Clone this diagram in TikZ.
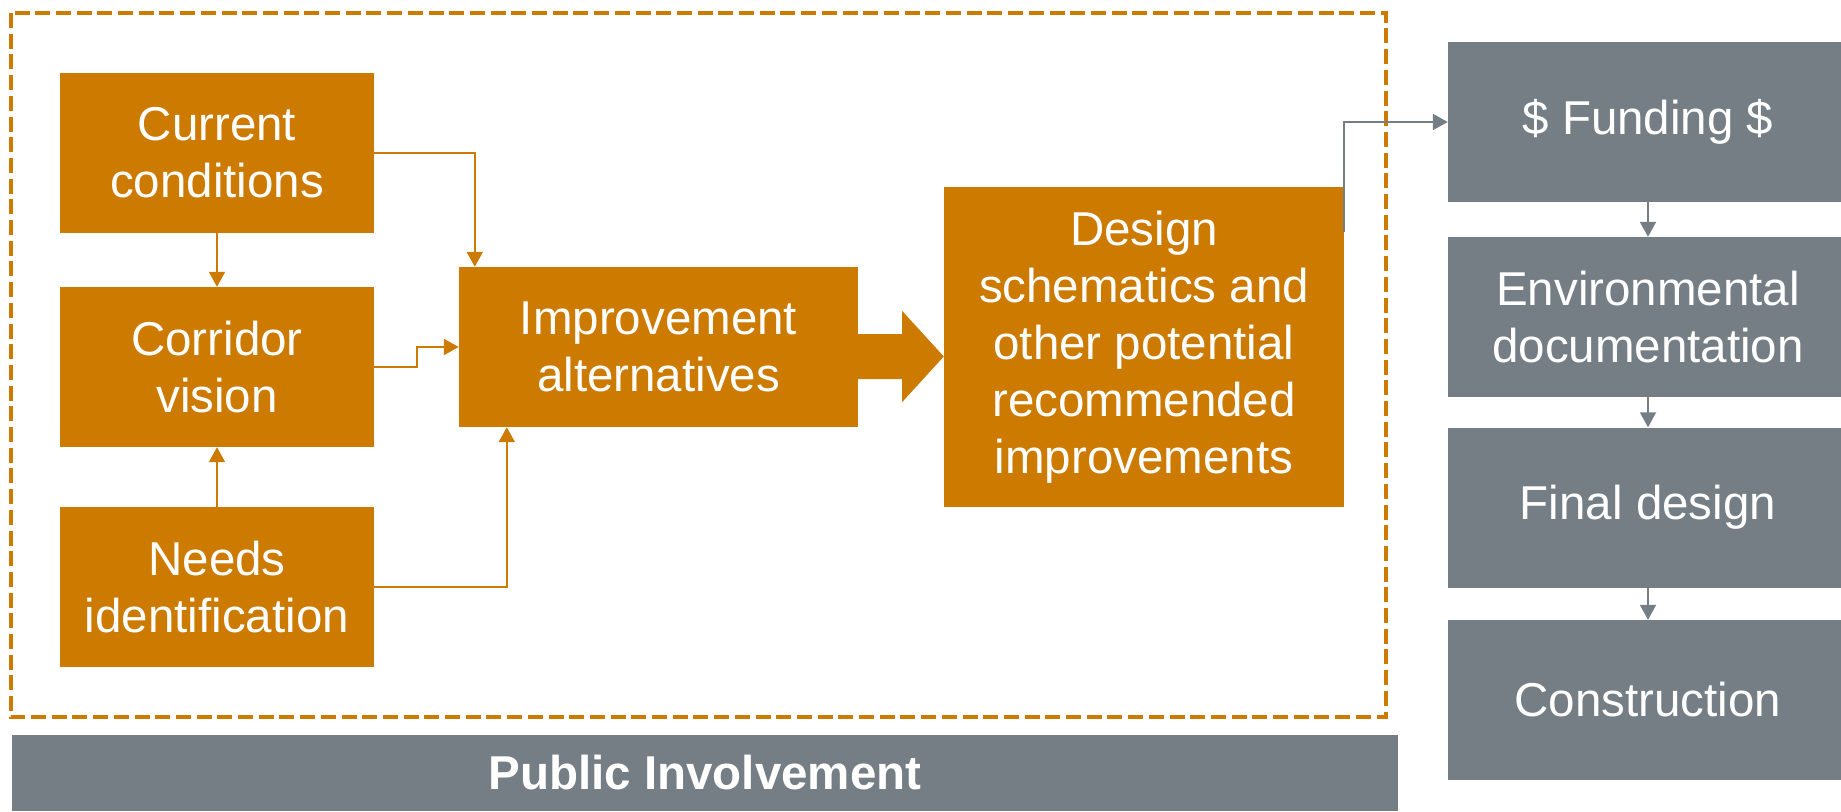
\documentclass[tikz,border=0pt]{standalone}
\usepackage{fontspec}
\setmainfont{Liberation Sans}
\usepackage{tikz}
\usetikzlibrary{positioning,calc,arrows.meta}
\definecolor{studyorange}{RGB}{204,122,0}
\definecolor{nextgray}{RGB}{116,126,132}

\begin{document}
\begin{tikzpicture}[
    x=1pt, y=-1pt,
    stage/.style={rectangle, fill=studyorange, text=white, minimum width=314pt, minimum height=160pt, inner sep=0pt, align=center, font=\fontsize{47.5}{57}\selectfont},
    later/.style={stage, fill=nextgray, minimum width=400pt},
    link/.style={draw, line width=2pt, color=studyorange, -{Triangle[length=15pt, width=16pt]}},
    glink/.style={link, color=nextgray},
    frame/.style={draw=studyorange, line width=4pt, dash pattern=on 15pt off 5.7pt}
]
\useasboundingbox (0,0) rectangle (1841,811);

% Study frame
\draw[frame] (10.5,13) rectangle (1386,717);

% Define node positions
\node[stage] (cur) at (217,152.5) {Current\\conditions};
\node[stage] (cor) at (217,367) {Corridor\\vision};
\node[stage] (need) at (217,587) {Needs\\identification};
\node[stage, minimum width=399pt] (imp) at (658.5,347) {Improvement\\alternatives};
\node[stage, minimum width=400pt, minimum height=320pt] (des) at (1144,347) {Design\\schematics and\\other potential\\recommended\\improvements};

\node[later] (fund) at (1648,122) {\$ Funding \$};
\node[later] (env) at (1648,317) {Environmental\\documentation};
\node[later] (fin) at (1648,507.5) {Final design};
\node[later] (con) at (1648,700) {Construction};

\node[later, minimum width=1386pt, minimum height=76pt, font=\fontsize{47.5}{57}\selectfont\bfseries] (pub) at (705,773) {Public Involvement};

% Orange links into the alternatives
\draw[link] (cur) -- (cor);
\draw[link] (need) -- (cor);
\draw[link] (cur.east) -| ([xshift=16pt]imp.north west);
\draw[link] (cor.east) -- ++(43,0) |- (imp.west);
\draw[link] (need.east) -| ([xshift=48pt]imp.south west);

% Big arrow
\fill[studyorange] ($(imp.east)+(0,-13)$) -- ++(44,0) -- ++(0,-23) -- ($(des.west)+(0,9.5)$)
    -- ($(imp.east)+(44,55)$) -- ++(0,-23) -- ($(imp.east)+(0,32)$) -- cycle;

% Gray links
\draw[glink] ([yshift=-45pt]des.north east) |- (fund.west);
\draw[glink] (fund) -- (env);
\draw[glink] (env) -- (fin);
\draw[glink] (fin) -- (con);

\end{tikzpicture}
\end{document}
